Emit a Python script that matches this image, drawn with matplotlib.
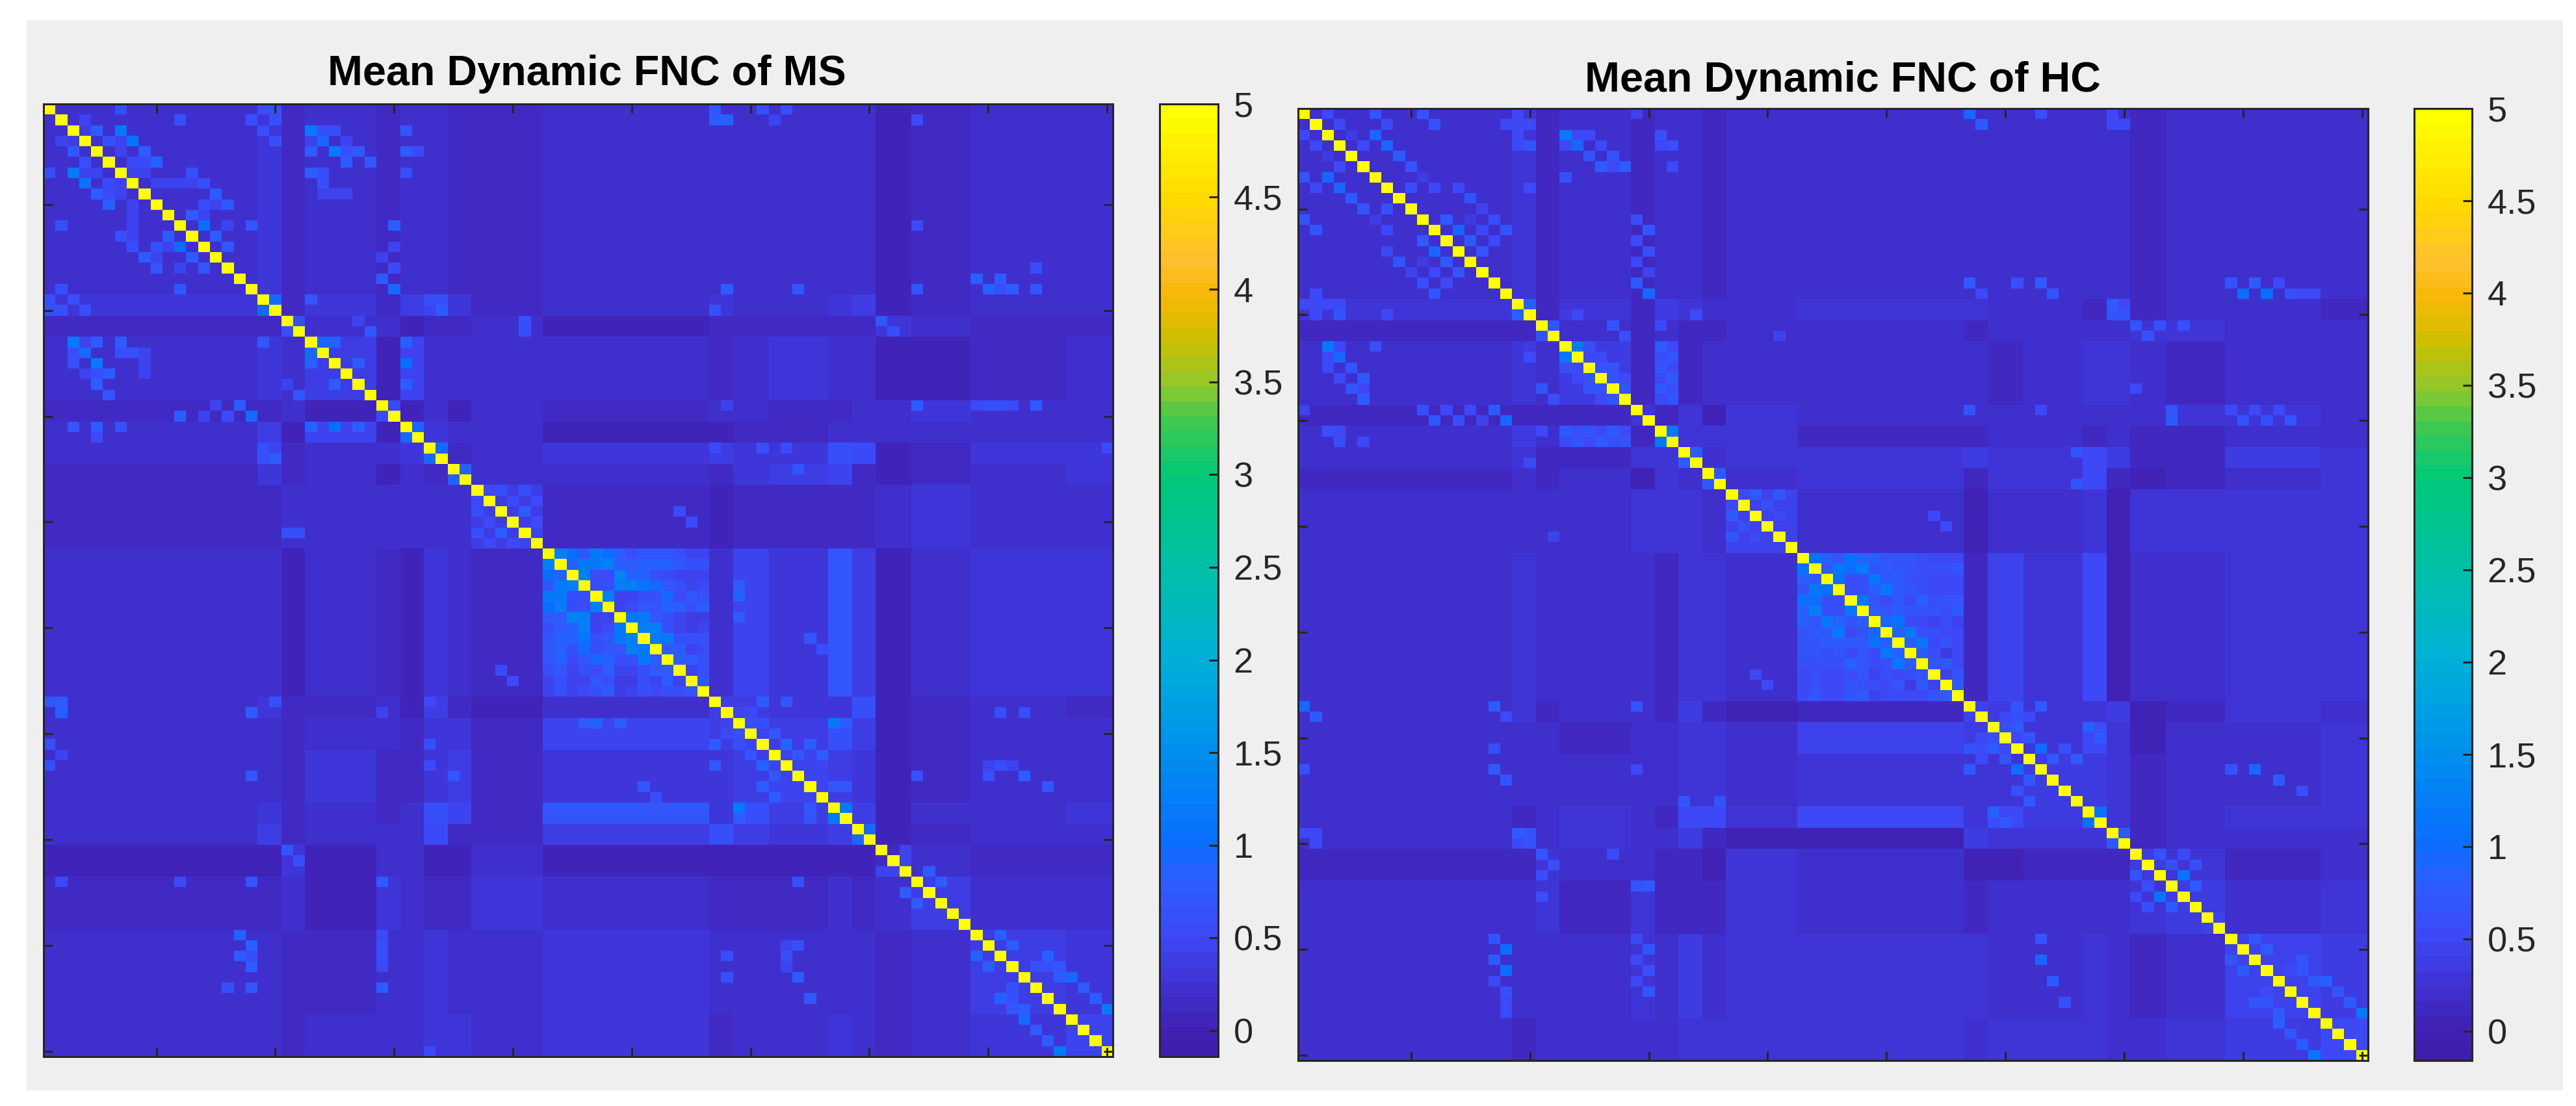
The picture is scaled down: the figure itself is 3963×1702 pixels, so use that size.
import numpy as np
import matplotlib
matplotlib.use('Agg')
import matplotlib.pyplot as plt
from matplotlib.colors import LinearSegmentedColormap, Normalize
from matplotlib.patches import Rectangle

plt.rcParams['font.family'] = ['Liberation Sans', 'DejaVu Sans']

W, H = 3963, 1702

# Number of networks in each block along the matrix diagonal
group_sizes = [18, 2, 2, 6, 2, 2, 2, 2, 6, 14, 2, 3, 5, 2, 2, 3, 5, 8, 4]

# Block levels, upper triangle (each row starts at its diagonal block)
ms_levels = [
    [.20, .28, .12, .22, .13, .22, .22, .15, .15, .20, .20, .22, .20, .22, .20, .10, .17, .20, .20],
    [.30, .15, .28, .15, .35, .45, .30, .17, .25, .30, .20, .20, .30, .42, .05, .15, .20, .20],
    [.20, .20, .20, .10, .15, .15, .25, .10, .15, .15, .15, .12, .12, .30, .20, .15, .15],
    [.40, .10, .50, .20, .20, .25, .25, .15, .20, .30, .20, .25, .10, .10, .17, .22],
    [.30, .10, .22, .05, .22, .15, .20, .20, .18, .12, .20, .20, .30, .25, .20],
    [.30, .30, .20, .20, .10, .10, .15, .12, .20, .25, .20, .20, .20, .22],
    [.30, .18, .20, .30, .35, .30, .30, .60, .55, .10, .15, .30, .30],
    [.35, .22, .25, .12, .28, .35, .50, .15, .05, .15, .20, .30],
    [.40, .18, .10, .18, .15, .15, .12, .25, .30, .25, .25],
    [.62, .25, .45, .32, .72, .40, .05, .20, .30, .30],
    [.40, .40, .30, .30, .60, .05, .12, .22, .15],
    [.50, .35, .60, .40, .05, .18, .20, .25],
    [.45, .40, .30, .05, .18, .20, .25],
    [.50, .35, .05, .20, .25, .30],
    [.95, .05, .18, .20, .20],
    [.15, .20, .12, .12],
    [.35, .20, .22],
    [.40, .30],
    [.50],
]

hc_levels = [
    [.20, .25, .12, .18, .12, .20, .22, .10, .18, .20, .22, .20, .18, .22, .18, .15, .17, .18, .18],
    [.30, .15, .30, .15, .40, .30, .20, .17, .25, .30, .20, .20, .15, .50, .10, .17, .20, .15],
    [.25, .20, .15, .20, .15, .15, .22, .18, .15, .20, .18, .18, .18, .30, .25, .18, .20],
    [.35, .10, .55, .15, .20, .20, .22, .18, .15, .20, .25, .25, .18, .12, .18, .20],
    [.30, .12, .25, .05, .25, .20, .22, .22, .18, .20, .18, .20, .30, .25, .20],
    [.35, .30, .25, .25, .15, .10, .20, .18, .12, .20, .15, .15, .22, .22],
    [.30, .20, .25, .30, .40, .30, .25, .55, .40, .12, .15, .35, .28],
    [.40, .22, .25, .15, .30, .30, .55, .10, .08, .10, .22, .30],
    [.42, .22, .08, .22, .20, .25, .05, .25, .30, .25, .30],
    [.62, .15, .42, .30, .50, .08, .20, .20, .28, .30],
    [.45, .35, .30, .30, .40, .05, .15, .25, .22],
    [.50, .30, .50, .30, .05, .17, .22, .25],
    [.40, .35, .25, .10, .18, .22, .25],
    [.50, .30, .10, .22, .25, .27],
    [.80, .10, .18, .22, .20],
    [.40, .30, .15, .20],
    [.40, .22, .25],
    [.42, .38],
    [.55],
]

# The bright block, networks 43 to 56: each row starts just right of the diagonal
ms_bright = [
    [1.25, 1.05, .70, 1.15, 1.00, .75, .60, .70, .70, .70, .60, .45, .50],
    [.90, 1.20, 1.20, 1.25, .75, .75, .85, .85, .85, .70, .65, .60],
    [1.25, .60, .55, 1.35, .85, .85, .60, .55, .50, .45, .45],
    [.65, .60, 1.25, 1.25, 1.10, .95, .70, .60, .45, .55],
    [1.30, .50, .45, .65, .60, .95, .55, .70, .60],
    [.50, .55, .70, .70, .85, .80, .65, .75],
    [1.20, 1.20, .70, .65, .45, .40, .40],
    [1.25, 1.25, .60, .45, .40, .45],
    [1.15, 1.15, .65, .60, .60],
    [.75, .80, .45, .55],
    [.75, .75, .60],
    [.45, .65],
    [.70],
]

hc_bright = [
    [1.10, .85, .65, 1.05, .85, .85, .70, .65, .65, .60, .55, .50, .55],
    [.75, 1.15, 1.00, 1.25, .70, .75, .70, .65, .60, .60, .60, .70],
    [1.10, .60, .60, 1.15, .80, .80, .60, .60, .55, .55, .50],
    [.60, .60, .85, 1.15, .80, .65, .60, .50, .50, .55],
    [1.15, .70, .55, .75, .55, .85, .60, .65, .65],
    [.75, .70, .75, .65, .65, .70, .60, .75],
    [.95, 1.10, .55, .55, .45, .60, .45],
    [.85, 1.15, .60, .60, .50, .50],
    [.85, 1.15, .50, .70, .50],
    [.80, .60, .40, .55],
    [.70, .80, .55],
    [.45, .65],
    [.75],
]

# Single cells that stand out from their block (row, column, value), 1-based
ms_cells = [
    (1, 7, .6), (1, 19, .6), (1, 20, .6), (1, 57, .7), (1, 61, .6), (1, 63, .65), (2, 4, .5), (2, 12, .65),
    (2, 18, .6), (2, 20, .6), (2, 57, .75), (2, 58, .9), (2, 62, .5), (2, 74, .55), (3, 4, .4), (3, 5, .7),
    (3, 7, 1.15), (3, 19, .65), (3, 23, 1.2), (3, 24, .65), (3, 25, .65), (3, 31, .7), (4, 6, .6), (4, 7, .5),
    (4, 8, 1.1), (4, 20, .65), (4, 23, .5), (4, 24, .95), (4, 26, .5), (5, 3, .8), (5, 7, .5), (5, 9, .8),
    (5, 23, .8), (5, 25, 1.2), (5, 26, .6), (5, 27, .75), (5, 31, .75), (5, 32, .55), (6, 8, .55), (6, 9, .55),
    (6, 10, .9), (6, 26, .8), (6, 28, .7), (7, 8, .5), (7, 9, .5), (7, 13, .6), (7, 23, .75), (7, 24, .6),
    (7, 31, .6), (8, 10, .5), (8, 11, .5), (8, 12, .5), (8, 13, .5), (8, 14, .6), (8, 24, .6), (9, 15, .75),
    (9, 24, .5), (9, 25, .5), (9, 26, .5), (10, 14, .6), (10, 15, .5), (10, 16, .7), (11, 13, .8), (11, 14, .5),
    (12, 14, 1.0), (12, 16, .5), (12, 18, .7), (12, 30, .75), (12, 74, .55), (13, 15, .75), (14, 16, .7),
    (14, 30, .5), (15, 29, .5), (16, 30, .55), (16, 84, .6), (17, 29, .75), (17, 79, .85), (17, 81, .8),
    (18, 30, .95), (18, 58, .8), (18, 64, .7), (18, 74, .7), (18, 80, .9), (18, 81, .65), (18, 82, .8),
    (18, 84, .7), (19, 20, .95), (19, 23, .7), (20, 34, .8), (20, 57, .6), (21, 22, .6), (21, 27, .5),
    (21, 41, .6), (21, 71, .7), (22, 28, .7), (22, 41, .6), (22, 72, .6), (23, 24, .95), (23, 25, .9),
    (23, 31, .85), (25, 27, .8), (25, 31, 1.0), (27, 31, .8), (29, 30, .55), (29, 58, .5), (29, 74, .8),
    (29, 79, .55), (29, 80, .65), (29, 81, .65), (29, 82, .55), (29, 84, .8), (31, 32, .95), (33, 34, .95),
    (33, 19, .6), (34, 19, .6), (33, 57, .55), (33, 61, .65), (33, 63, .55), (33, 90, .55), (35, 36, .85),
    (35, 64, .7), (37, 38, .55), (37, 39, .6), (37, 41, .6), (38, 40, .55), (38, 42, .55), (39, 41, .8),
    (39, 54, .55), (40, 42, .55), (40, 55, .55), (41, 42, .5),
    (46, 59, .8), (47, 59, .9), (49, 59, .75), (51, 65, .7), (52, 66, .6),
    (57, 61, .75), (57, 63, .7), (58, 59, .5), (58, 60, .55), (58, 81, .65), (58, 83, .65), (59, 60, .6),
    (59, 61, .6), (59, 67, 1.15), (59, 68, .8), (60, 62, .7), (61, 63, .85), (61, 65, .75), (62, 64, .7),
    (62, 66, .8), (63, 80, .5), (63, 81, .65), (63, 82, .5), (64, 74, .6), (64, 80, .6), (64, 83, .8),
    (65, 67, .7), (65, 68, .7), (65, 85, .7), (67, 68, 1.15), (69, 70, .95), (71, 73, .5), (72, 73, .5),
    (73, 75, .8), (74, 76, .75), (79, 81, .85), (80, 82, .75), (81, 85, .85), (82, 84, .6),
    (82, 85, .6), (82, 86, .7), (83, 86, .8), (83, 87, .95), (84, 88, .75), (85, 89, .8), (86, 90, 1.15),
]

hc_cells = [
    (1, 3, .5), (1, 7, .65), (1, 11, .65), (1, 19, .5), (1, 29, .45), (1, 57, .9), (1, 63, .6), (1, 69, .5),
    (2, 4, .55), (2, 8, .55), (2, 12, .65), (2, 18, .5), (2, 19, .5), (2, 20, .5), (2, 58, .75), (2, 69, .5),
    (2, 70, .5), (3, 7, .9), (3, 19, .5), (3, 23, 1.15), (3, 24, .55), (3, 25, .55), (3, 31, .6), (4, 6, .55),
    (4, 8, .9), (4, 19, .5), (4, 20, .7), (4, 23, .55), (4, 24, .95), (4, 26, .5), (4, 31, .5), (4, 32, .6),
    (5, 3, .4), (5, 9, .75), (5, 25, .65), (5, 27, .65), (6, 10, .7), (6, 26, .75), (6, 27, .5), (6, 28, .75),
    (6, 32, .5), (7, 11, .4), (7, 23, .6), (8, 10, .6), (8, 12, .5), (8, 14, .55), (8, 20, .55), (9, 15, .65),
    (10, 16, .45), (11, 13, .8), (11, 15, .4), (11, 17, .6), (11, 29, .6), (12, 14, .9), (12, 16, .5),
    (12, 18, .65), (12, 30, .65), (13, 15, .75), (13, 17, .5), (13, 29, .55), (14, 16, .65), (14, 30, .6),
    (15, 29, .5), (16, 30, .45), (17, 29, .8), (17, 57, .75), (17, 61, .6), (17, 63, .8), (17, 79, .7),
    (17, 81, .75), (17, 83, .5), (18, 30, .9), (18, 58, .55), (18, 64, .65), (18, 80, 1.0), (18, 82, 1.0),
    (18, 84, .6), (18, 85, .5), (18, 86, .5), (19, 20, .85), (19, 69, .75), (20, 23, .4), (20, 24, .5),
    (20, 34, .55), (20, 69, .65), (20, 70, .65), (21, 22, .65), (21, 27, .65), (21, 31, .55), (21, 71, .65),
    (21, 73, .6), (21, 75, .6), (22, 28, .6), (22, 72, .6), (23, 24, 1.15), (23, 25, .6), (23, 31, .75),
    (24, 25, .5), (24, 26, .55), (24, 31, .6), (24, 32, .7), (25, 26, .7), (25, 27, .7), (25, 31, .7),
    (26, 27, .65), (26, 28, .55), (26, 32, .75), (27, 28, .7), (27, 31, .75), (27, 32, .6), (27, 71, .5),
    (28, 32, .65), (29, 57, .65), (29, 63, .5), (29, 74, .7), (29, 79, .55), (29, 81, .55), (29, 83, .55),
    (30, 74, .75), (30, 80, .65), (30, 82, .6), (30, 84, .7), (31, 32, 1.2), (33, 34, .75), (33, 66, .65),
    (35, 36, .75), (36, 66, .7), (37, 38, .5), (37, 39, .75), (37, 41, .65), (38, 40, .6), (38, 42, .45),
    (39, 41, .55), (39, 54, .5), (40, 55, .5), (41, 22, .45),
    (57, 61, .65), (57, 63, .75), (58, 60, .55), (58, 61, .6), (58, 62, .55), (59, 60, .6), (59, 61, .75),
    (59, 67, .85), (59, 68, .6), (60, 62, .65), (60, 67, .55), (60, 68, .8), (61, 63, 1.0), (61, 65, .6),
    (62, 64, .8), (62, 66, .8), (63, 79, .65), (63, 81, .95), (64, 83, .75), (65, 85, .6), (67, 68, 1.1),
    (69, 70, .8), (71, 73, .65), (71, 75, .55), (72, 74, .6), (72, 76, .6), (73, 75, 1.1), (74, 76, .75),
    (77, 78, .45), (79, 81, .7), (80, 82, .75), (81, 85, .7), (82, 84, .55), (82, 85, .7), (83, 86, .75),
    (83, 87, .85), (84, 88, .65), (85, 89, .8), (86, 90, 1.2),
]

# Colorbar read value by value
cmap_values = [-0.16, 0, 0.5, 0.8, 1.0, 1.5, 2.0, 2.5, 3.0, 3.3, 3.5, 3.75, 4.0, 4.2, 4.5, 5.0]
cmap_colors = ['#3e1eab', '#4122b6', '#3d49f8', '#2b5fff', '#0a6eff', '#0090ee', '#00b0d8', '#00c0a8',
               '#00c878', '#40c850', '#90c82c', '#cdbf00', '#f8b808', '#ffc030', '#ffd800', '#ffff00']
cbar_ticks = [0, 0.5, 1, 1.5, 2, 2.5, 3, 3.5, 4, 4.5, 5]
cbar_labels = ['0', '0.5', '1', '1.5', '2', '2.5', '3', '3.5', '4', '4.5', '5']
mat_ticks = [10, 20, 30, 40, 50, 60, 70, 80, 90]
BRIGHT_START = 43


def build_matrix(levels, bright, cells):
    n = sum(group_sizes)
    mat = np.zeros((n, n))
    starts = np.cumsum([0] + group_sizes)
    for a, row in enumerate(levels):
        for k, val in enumerate(row):
            b = a + k
            mat[starts[a]:starts[a + 1], starts[b]:starts[b + 1]] = val
            mat[starts[b]:starts[b + 1], starts[a]:starts[a + 1]] = val
    for k, row in enumerate(bright):
        r = BRIGHT_START + k
        for m, val in enumerate(row):
            c = r + 1 + m
            mat[r - 1, c - 1] = val
            mat[c - 1, r - 1] = val
    for r, c, val in cells:
        mat[r - 1, c - 1] = val
        mat[c - 1, r - 1] = val
    np.fill_diagonal(mat, 5)
    return mat


def px_axes(fig, x0, y0, x1, y1):
    # pixel box measured from top-left of the image
    return fig.add_axes([x0 / W, 1 - y1 / H, (x1 - x0) / W, (y1 - y0) / H])


def draw_panel(fig, mat, box, cbox, vmin, title, title_x, title_y):
    span = 5 - vmin
    stops = [(max(v, vmin) - vmin) / span for v in cmap_values]
    cmap = LinearSegmentedColormap.from_list('fnc', list(zip(stops, cmap_colors)), N=64)

    ax = px_axes(fig, *box)
    im = ax.imshow(mat, cmap=cmap, norm=Normalize(vmin, 5), aspect='auto', interpolation='nearest',
                   extent=(0.5, 90.5, 90.5, 0.5))
    ax.set_xticks(mat_ticks)
    ax.set_yticks(mat_ticks)
    ax.tick_params(direction='in', length=10, width=2.2, color='#262626',
                   top=True, right=True, labelbottom=False, labelleft=False)
    for spine in ax.spines.values():
        spine.set_linewidth(2.2)
        spine.set_color('#262626')

    cax = px_axes(fig, *cbox)
    cb = fig.colorbar(im, cax=cax)
    cb.set_ticks(cbar_ticks)
    cb.set_ticklabels(cbar_labels)
    cax.tick_params(direction='in', length=10, width=2.2, color='#262626',
                    labelsize=39, labelcolor='#262626', pad=17)
    cb.outline.set_linewidth(2.2)
    cb.outline.set_edgecolor('#262626')

    fig.text(title_x / W, 1 - title_y / H, title, ha='center', va='baseline',
             fontsize=46.5, fontweight='bold', color='black')


fig = plt.figure(figsize=(W / 100, H / 100), dpi=100, facecolor='white')
fig.add_artist(Rectangle((41 / W, 1 - 1678 / H), (3943 - 41) / W, (1678 - 31) / H,
                         transform=fig.transFigure, facecolor='#efefef', edgecolor='none', zorder=-1))

ms_mat = build_matrix(ms_levels, ms_bright, ms_cells)
hc_mat = build_matrix(hc_levels, hc_bright, hc_cells)

draw_panel(fig, ms_mat, (67, 160, 1712, 1626), (1784, 160, 1874, 1626), -0.14,
           'Mean Dynamic FNC of MS', 903, 131)
draw_panel(fig, hc_mat, (1997, 167, 3643, 1632), (3714, 167, 3803, 1632), -0.16,
           'Mean Dynamic FNC of HC', 2835, 141)

fig.savefig('out.png', dpi=100, facecolor='white')
